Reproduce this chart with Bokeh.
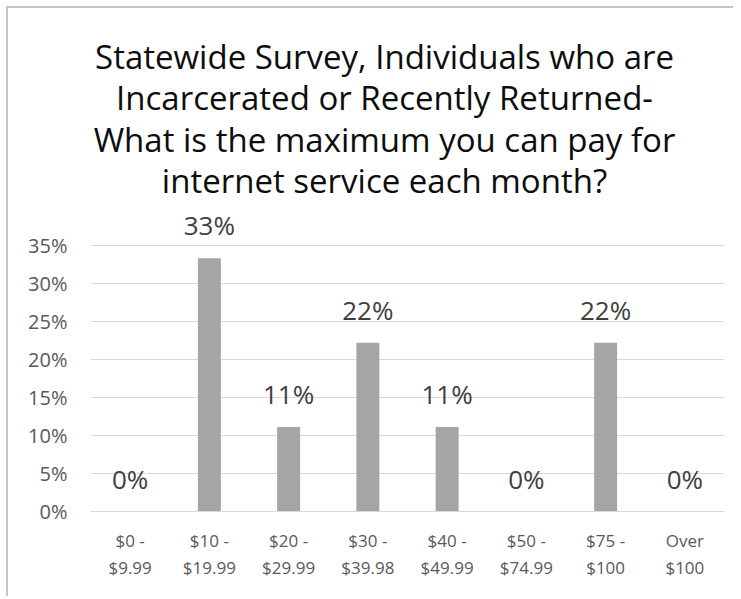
from bokeh.plotting import figure
from bokeh.models import ColumnDataSource, LabelSet, Label, Range1d, FixedTicker, NumeralTickFormatter
from bokeh.core.properties import value
from bokeh.embed import file_html
from bokeh.resources import INLINE

categories = ["$0 -\n$9.99", "$10 -\n$19.99", "$20 -\n$29.99", "$30 -\n$39.98",
              "$40 -\n$49.99", "$50 -\n$74.99", "$75 -\n$100", "Over\n$100"]
values = [0.0, 0.3333, 0.1111, 0.2222, 0.1111, 0.0, 0.2222, 0.0]
value_labels = ["0%", "33%", "11%", "22%", "11%", "0%", "22%", "0%"]
y_ticks = [0, 0.05, 0.10, 0.15, 0.20, 0.25, 0.30, 0.35]
title_lines = ["Statewide Survey, Individuals who are",
               "Incarcerated or Recently Returned-",
               "What is the maximum you can pay for",
               "internet service each month?"]

FONT = "Open Sans"

src = ColumnDataSource(dict(cat=categories, val=values, lab=value_labels))

# y range extends above the 35% gridline so the title lines sit inside the frame
p = figure(x_range=categories, y_range=Range1d(0, 0.6592), width=733, height=596,
           output_backend="svg", toolbar_location=None, tools="",
           min_border_left=90, min_border_right=9, min_border_bottom=85,
           min_border_top=10)
p.title = None
p.styles = {
    "background": "linear-gradient(#c6c6c6, #c6c6c6) 6px 6px / 2px 100% no-repeat, "
                  "linear-gradient(#c6c6c6, #c6c6c6) 6px 6px / 100% 2px no-repeat, white"
}
p.outline_line_color = None
p.background_fill_color = None
p.border_fill_color = None

p.vbar(x="cat", top="val", width=0.29, source=src, fill_color="#a5a5a5", line_color=None)

labels = LabelSet(x="cat", y="val", text="lab", source=src, text_align="center",
                  text_baseline="middle", y_offset=33, text_font=value(FONT),
                  text_font_size="26px", text_color="#404040")
p.add_layout(labels)

title_y = [0.5987, 0.5447, 0.4895, 0.4355]
for line, ty in zip(title_lines, title_y):
    p.add_layout(Label(x=3.71, y=ty, text=line, text_align="center", text_baseline="middle",
                       text_font=FONT, text_font_size="33px", text_color="#0d0d0d"))

p.yaxis.ticker = FixedTicker(ticks=y_ticks)
p.yaxis.formatter = NumeralTickFormatter(format="0%")
p.yaxis.axis_line_color = None
p.yaxis.major_tick_line_color = None
p.yaxis.minor_tick_line_color = None
p.yaxis.major_label_standoff = 17
p.yaxis.major_label_text_font = FONT
p.yaxis.major_label_text_font_size = "20px"
p.yaxis.major_label_text_color = "#595959"

p.xaxis.axis_line_color = "#d9d9d9"
p.xaxis.axis_line_width = 1
p.xaxis.major_tick_line_color = None
p.xaxis.minor_tick_line_color = None
p.xaxis.major_label_standoff = 11
p.xaxis.major_label_text_font = FONT
p.xaxis.major_label_text_font_size = "17px"
p.xaxis.major_label_text_color = "#595959"

p.xgrid.grid_line_color = None
p.ygrid.ticker = FixedTicker(ticks=y_ticks)
p.ygrid.grid_line_color = "#d9d9d9"
p.ygrid.grid_line_width = 1

open("out.html", "w").write(file_html(p, INLINE))
